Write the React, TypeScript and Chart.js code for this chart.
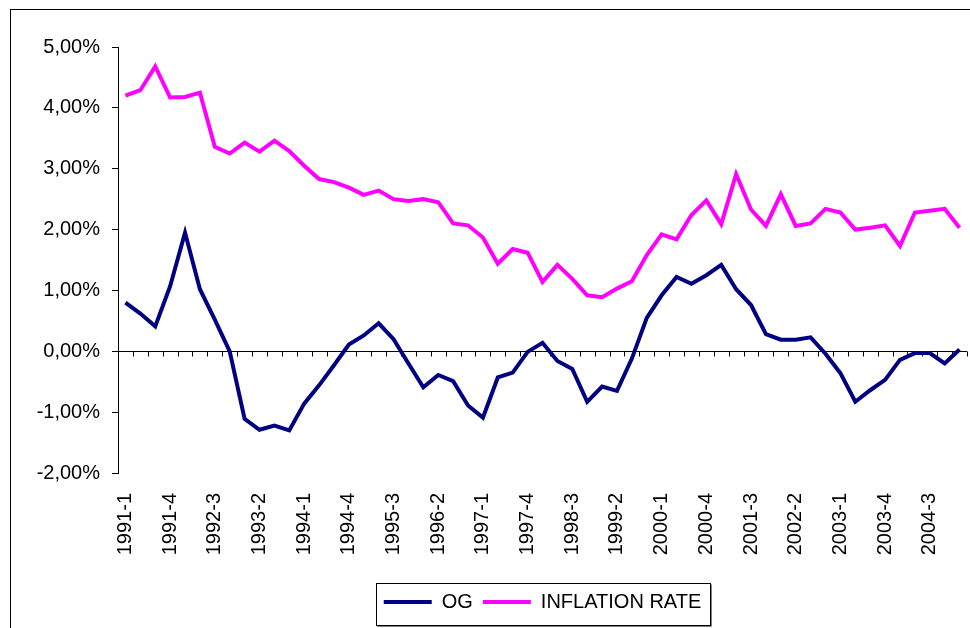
import React, { useEffect, useRef } from 'react';
import { Chart, registerables } from 'chart.js';

Chart.register(...registerables);

const QUARTERS: string[] = [
  '1991-1', '1991-2', '1991-3', '1991-4',
  '1992-1', '1992-2', '1992-3', '1992-4',
  '1993-1', '1993-2', '1993-3', '1993-4',
  '1994-1', '1994-2', '1994-3', '1994-4',
  '1995-1', '1995-2', '1995-3', '1995-4',
  '1996-1', '1996-2', '1996-3', '1996-4',
  '1997-1', '1997-2', '1997-3', '1997-4',
  '1998-1', '1998-2', '1998-3', '1998-4',
  '1999-1', '1999-2', '1999-3', '1999-4',
  '2000-1', '2000-2', '2000-3', '2000-4',
  '2001-1', '2001-2', '2001-3', '2001-4',
  '2002-1', '2002-2', '2002-3', '2002-4',
  '2003-1', '2003-2', '2003-3', '2003-4',
  '2004-1', '2004-2', '2004-3', '2004-4',
  '2005-1',
];

// Output gap, percent
const OG: number[] = [
  0.80, 0.62, 0.41, 1.07, 1.95, 1.02, 0.52, 0.00, -1.11, -1.29,
  -1.22, -1.30, -0.86, -0.56, -0.23, 0.11, 0.26, 0.46, 0.20, -0.20,
  -0.59, -0.39, -0.49, -0.89, -1.09, -0.43, -0.35, -0.01, 0.14, -0.16,
  -0.29, -0.83, -0.58, -0.65, -0.12, 0.55, 0.92, 1.22, 1.11, 1.25,
  1.42, 1.02, 0.76, 0.28, 0.19, 0.19, 0.23, -0.04, -0.36, -0.83,
  -0.64, -0.47, -0.14, -0.03, -0.03, -0.20, 0.03,
];

// Inflation rate, percent
const INFLATION_RATE: number[] = [
  4.20, 4.29, 4.68, 4.17, 4.18, 4.25, 3.36, 3.25, 3.43, 3.28,
  3.46, 3.29, 3.05, 2.83, 2.78, 2.69, 2.57, 2.64, 2.50, 2.47,
  2.50, 2.45, 2.10, 2.07, 1.87, 1.44, 1.68, 1.62, 1.14, 1.42,
  1.19, 0.92, 0.89, 1.03, 1.15, 1.58, 1.92, 1.84, 2.24, 2.48,
  2.09, 2.91, 2.33, 2.06, 2.58, 2.06, 2.10, 2.34, 2.28, 2.00,
  2.03, 2.07, 1.73, 2.28, 2.31, 2.34, 2.03,
];

const SERIES_NAMES = ['OG', 'INFLATION RATE'];
const SERIES_COLORS = ['#000080', '#FF00FF'];
const Y_MIN = -2;
const Y_MAX = 5;
const Y_STEP = 1;
const LABEL_EVERY = 3;

const FONT = "'Liberation Sans', Arial, Helvetica, sans-serif";

const framePlugin = {
  id: 'frame',
  beforeDraw(chart: any) {
    const ctx = chart.ctx;
    ctx.save();
    ctx.fillStyle = '#ffffff';
    ctx.fillRect(0, 0, chart.width, chart.height);
    ctx.strokeStyle = '#000000';
    ctx.lineWidth = 1;
    ctx.strokeRect(10.5, 9.5, chart.width + 40, chart.height + 40);
    ctx.restore();
  },
};

const zeroAxisPlugin = {
  id: 'zeroAxis',
  beforeDatasetsDraw(chart: any) {
    const { ctx, chartArea, scales } = chart;
    const x = scales.x;
    const y = scales.y;
    const y0 = Math.round(y.getPixelForValue(0)) + 0.5;
    const n = chart.data.labels.length;
    ctx.save();
    ctx.strokeStyle = '#000000';
    ctx.lineWidth = 1;
    ctx.beginPath();
    ctx.moveTo(chartArea.left, y0);
    ctx.lineTo(chartArea.right, y0);
    for (let i = 0; i <= n; i++) {
      let px: number;
      if (i === 0) px = chartArea.left;
      else if (i === n) px = chartArea.right;
      else px = (x.getPixelForValue(i - 1) + x.getPixelForValue(i)) / 2;
      const xx = Math.round(px) + 0.5;
      ctx.moveTo(xx, y0);
      ctx.lineTo(xx, y0 + 5);
    }
    ctx.stroke();
    ctx.restore();
  },
};

const legendFramePlugin = {
  id: 'legendFrame',
  afterDraw(chart: any) {
    const lg = chart.legend;
    if (!lg || !lg.legendHitBoxes || !lg.legendHitBoxes.length) return;
    const hb = lg.legendHitBoxes;
    const first = hb[0];
    const last = hb[hb.length - 1];
    const left = Math.round(first.left - 8) + 0.5;
    const right = Math.round(last.left + last.width + 9) + 0.5;
    const cy = first.top + first.height / 2;
    const top = Math.round(cy - 19) + 0.5;
    const bottom = Math.round(cy + 23) + 0.5;
    const ctx = chart.ctx;
    ctx.save();
    ctx.strokeStyle = '#000000';
    ctx.lineWidth = 1;
    ctx.strokeRect(left, top, right - left, bottom - top);
    ctx.strokeStyle = '#808080';
    ctx.beginPath();
    ctx.moveTo(right + 1, top + 1);
    ctx.lineTo(right + 1, bottom + 1);
    ctx.lineTo(left + 1, bottom + 1);
    ctx.stroke();
    ctx.restore();
  },
};

export default function App() {
  const canvasRef = useRef<HTMLCanvasElement | null>(null);

  useEffect(() => {
    const canvas = canvasRef.current;
    if (!canvas) return;
    const chart = new Chart(canvas, {
      type: 'line',
      data: {
        labels: QUARTERS,
        datasets: [
          {
            label: SERIES_NAMES[0],
            data: OG,
            borderColor: SERIES_COLORS[0],
            backgroundColor: SERIES_COLORS[0],
            borderWidth: 4,
            pointRadius: 0,
            tension: 0,
            fill: false,
          },
          {
            label: SERIES_NAMES[1],
            data: INFLATION_RATE,
            borderColor: SERIES_COLORS[1],
            backgroundColor: SERIES_COLORS[1],
            borderWidth: 4,
            pointRadius: 0,
            tension: 0,
            fill: false,
          },
        ],
      },
      options: {
        animation: false,
        responsive: false,
        maintainAspectRatio: false,
        events: [],
        layout: { padding: { top: 47, right: 3, bottom: 6, left: 0 } },
        scales: {
          x: {
            type: 'category',
            offset: true,
            grid: { display: false, drawTicks: false },
            border: { display: false },
            ticks: {
              autoSkip: false,
              maxRotation: 90,
              minRotation: 90,
              padding: 20,
              color: '#000000',
              font: { family: FONT, size: 20 },
              callback: function (this: any, val: any, idx: number) {
                return idx % LABEL_EVERY === 0 ? this.getLabelForValue(val) : '';
              },
            },
            afterFit: (s: any) => {
              s.height = 109;
              s.paddingLeft = 0;
              s.paddingRight = 0;
            },
          },
          y: {
            min: Y_MIN,
            max: Y_MAX,
            grid: { drawOnChartArea: false, drawTicks: true, tickLength: 6, color: '#000000' },
            border: { display: true, color: '#000000', width: 1 },
            ticks: {
              stepSize: Y_STEP,
              padding: 12,
              color: '#000000',
              font: { family: FONT, size: 20 },
              callback: (v: any) => Number(v).toFixed(2).replace('.', ',') + '%',
            },
            afterFit: (s: any) => {
              s.width = 118;
              s.paddingTop = 0;
              s.paddingBottom = 0;
            },
          },
        },
        plugins: {
          tooltip: { enabled: false },
          title: { display: false },
          legend: {
            display: true,
            position: 'bottom',
            fullSize: false,
            align: 'center',
            labels: {
              color: '#000000',
              font: { family: FONT, size: 20 },
              boxWidth: 48,
              boxHeight: 4,
              padding: 10,
              generateLabels: (ch: any) =>
                ch.data.datasets.map((ds: any, i: number) => ({
                  text: ds.label,
                  fillStyle: ds.borderColor,
                  strokeStyle: ds.borderColor,
                  lineWidth: 0,
                  hidden: false,
                  datasetIndex: i,
                })),
            },
          },
        },
      },
      plugins: [framePlugin, zeroAxisPlugin, legendFramePlugin],
    });
    return () => chart.destroy();
  }, []);

  return (
    <div style={{ position: 'fixed', left: 0, top: 0, width: 970, height: 628, overflow: 'hidden', background: '#fff' }}>
      <canvas ref={canvasRef} width={970} height={628} style={{ display: 'block', width: 970, height: 628 }} />
    </div>
  );
}
